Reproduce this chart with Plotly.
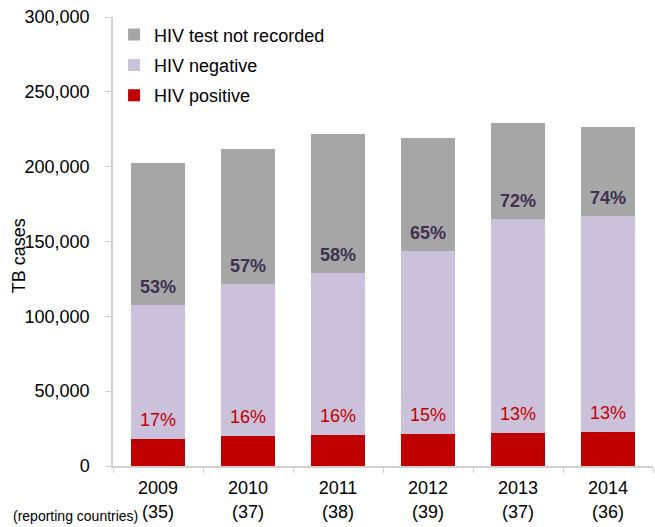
import plotly.graph_objects as go

years = ["2009", "2010", "2011", "2012", "2013", "2014"]
countries = ["(35)", "(37)", "(38)", "(39)", "(37)", "(36)"]
hiv_positive = [18300, 19900, 20900, 21400, 22100, 22500]
hiv_negative = [89300, 101600, 107900, 122400, 142700, 144700]
hiv_not_recorded = [95100, 90300, 93100, 75200, 64200, 59200]
pct_tested = ["53%", "57%", "58%", "65%", "72%", "74%"]
pct_positive = ["17%", "16%", "16%", "15%", "13%", "13%"]

FONT = "Liberation Sans, Arial, sans-serif"
C_POS = "#c00000"
C_NEG = "#ccc1da"
C_NR = "#a6a6a6"

xt = [f"{y}<br>{c}" for y, c in zip(years, countries)]

fig = go.Figure()
fig.add_trace(go.Bar(x=xt, y=hiv_positive, name="HIV positive", marker_color=C_POS,
                     marker_line_width=0, legendgroup="a", legendrank=3))
fig.add_trace(go.Bar(x=xt, y=hiv_negative, name="HIV negative", marker_color=C_NEG,
                     marker_line_width=0, legendgroup="b", legendrank=2))
fig.add_trace(go.Bar(x=xt, y=hiv_not_recorded, name="HIV test not recorded", marker_color=C_NR,
                     marker_line_width=0, legendgroup="c", legendrank=1))

for i, x in enumerate(xt):
    tested_top = hiv_positive[i] + hiv_negative[i]
    fig.add_annotation(x=x, y=tested_top, text=f"<b>{pct_tested[i]}</b>", showarrow=False,
                       yanchor="bottom", yshift=6,
                       font=dict(family=FONT, size=18, color="#403152"))
    fig.add_annotation(x=x, y=hiv_positive[i], text=pct_positive[i], showarrow=False,
                       yanchor="bottom", yshift=7,
                       font=dict(family=FONT, size=18, color=C_POS))

fig.add_annotation(xref="paper", yref="paper", x=0.0495, y=-0.1105, text="(reporting countries)",
                   showarrow=False, xanchor="right", yanchor="middle",
                   font=dict(family=FONT, size=14, color="#000000"))
fig.add_annotation(xref="paper", yref="paper", x=-0.175, y=0.468, text="TB cases", textangle=-90,
                   showarrow=False, xanchor="center", yanchor="middle",
                   font=dict(family=FONT, size=18, color="#000000"))

fig.update_layout(
    barmode="stack",
    bargap=0.4,
    width=655, height=527,
    margin=dict(l=113, r=2, t=17, b=61),
    plot_bgcolor="white", paper_bgcolor="white",
    font=dict(family=FONT, size=18, color="#000000"),
    legend=dict(x=0.002, y=1.0015, xanchor="left", yanchor="top", traceorder="grouped",
                font=dict(family=FONT, size=18, color="#000000"),
                bgcolor="rgba(0,0,0,0)", itemwidth=30, tracegroupgap=4),
    xaxis=dict(showline=True, linecolor="#d0d0d0", linewidth=1.5, ticks="outside",
               tickson="boundaries", ticklen=5, tickcolor="#d0d0d0", ticklabelstandoff=5,
               tickfont=dict(family=FONT, size=18, color="#000000")),
    yaxis=dict(range=[0, 300000], tickvals=[0, 50000, 100000, 150000, 200000, 250000, 300000],
               tickformat=",d", showline=True, linecolor="#d0d0d0", linewidth=1.5,
               ticks="outside", ticklen=6, tickcolor="#d0d0d0", showgrid=False, zeroline=False,
               ticklabelstandoff=12, ticklabeloverflow="allow",
               tickfont=dict(family=FONT, size=18, color="#000000")),
)

fig.write_html("out.html", config={"displayModeBar": False},
               post_script="document.body.style.margin='0';")
